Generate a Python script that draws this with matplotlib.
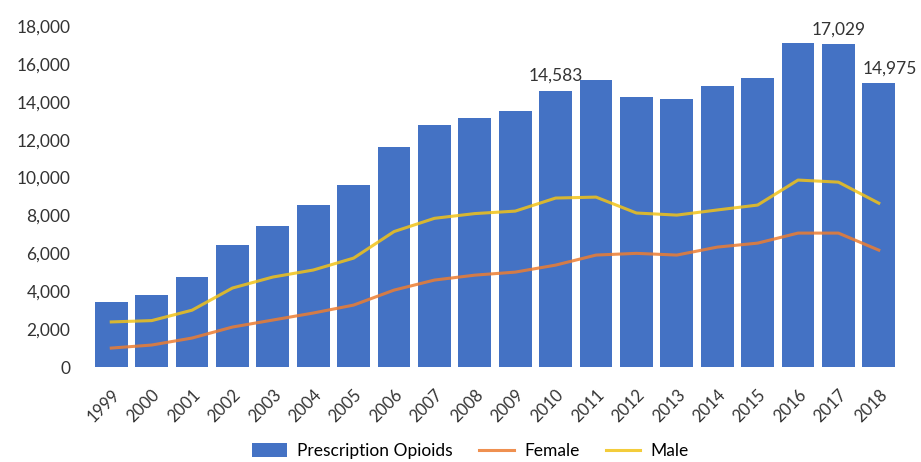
import matplotlib.pyplot as plt
import numpy as np

plt.rcParams['font.family'] = ['Lato', 'DejaVu Sans']

years = ['1999', '2000', '2001', '2002', '2003', '2004', '2005', '2006', '2007', '2008',
         '2009', '2010', '2011', '2012', '2013', '2014', '2015', '2016', '2017', '2018']
opioids = [3442, 3785, 4770, 6446, 7456, 8577, 9612, 11589, 12796, 13149,
           13523, 14583, 15140, 14240, 14145, 14838, 15281, 17087, 17029, 14975]
female = [1000, 1160, 1530, 2110, 2480, 2850, 3270, 4060, 4590, 4850,
          5010, 5380, 5910, 6000, 5910, 6330, 6540, 7070, 7070, 6170]
male = [2380, 2450, 3000, 4170, 4750, 5120, 5750, 7150, 7850, 8100,
        8230, 8920, 8970, 8130, 8020, 8290, 8550, 9870, 9760, 8650]
labelled = ['2010', '2017', '2018']

x = np.arange(len(years))

fig = plt.figure(figsize=(9.21, 4.62), dpi=100)
ax = fig.add_axes([0.0945, 0.2056, 0.886, 0.738])

bars = ax.bar(x, opioids, width=0.81, color='#4472C4', label='Prescription Opioids', zorder=2)
lf, = ax.plot(x, female, color='#ED7D31', lw=2.2, alpha=0.85, label='Female', zorder=3)
lm, = ax.plot(x, male, color='#F2C318', lw=2.2, alpha=0.85, label='Male', zorder=3)

for i, yr in enumerate(years):
    if yr in labelled:
        dx = 0.27 if yr == '2018' else 0
        ax.annotate(f"{opioids[i]:,}", (x[i] + dx, opioids[i]), xytext=(0, 5),
                    textcoords='offset points', ha='center', va='bottom',
                    fontsize=12.5, color='#333333', annotation_clip=False)

ax.set_xlim(-0.6, len(years) - 0.4)
ax.set_ylim(0, 18000)
ax.set_yticks(np.arange(0, 18001, 2000))
ax.set_yticklabels([f"{v:,}" for v in range(0, 18001, 2000)], fontsize=12.5, color='#333333')
ax.set_xticks(x)
ax.set_xticklabels(years, rotation=45, ha='right', rotation_mode='anchor',
                   fontsize=12, color='#333333')
ax.tick_params(axis='both', length=0)
ax.tick_params(axis='y', pad=12)
ax.tick_params(axis='x', pad=14)
for s in ax.spines.values():
    s.set_visible(False)

fig.legend([bars, lf, lm], ['Prescription Opioids', 'Female', 'Male'],
           loc='center', bbox_to_anchor=(0.511, 0.024), ncol=3, frameon=False,
           fontsize=12.5, handlelength=2.0, handleheight=0.8, columnspacing=1.5,
           handletextpad=0.6)

fig.savefig('out.png', dpi=100)
